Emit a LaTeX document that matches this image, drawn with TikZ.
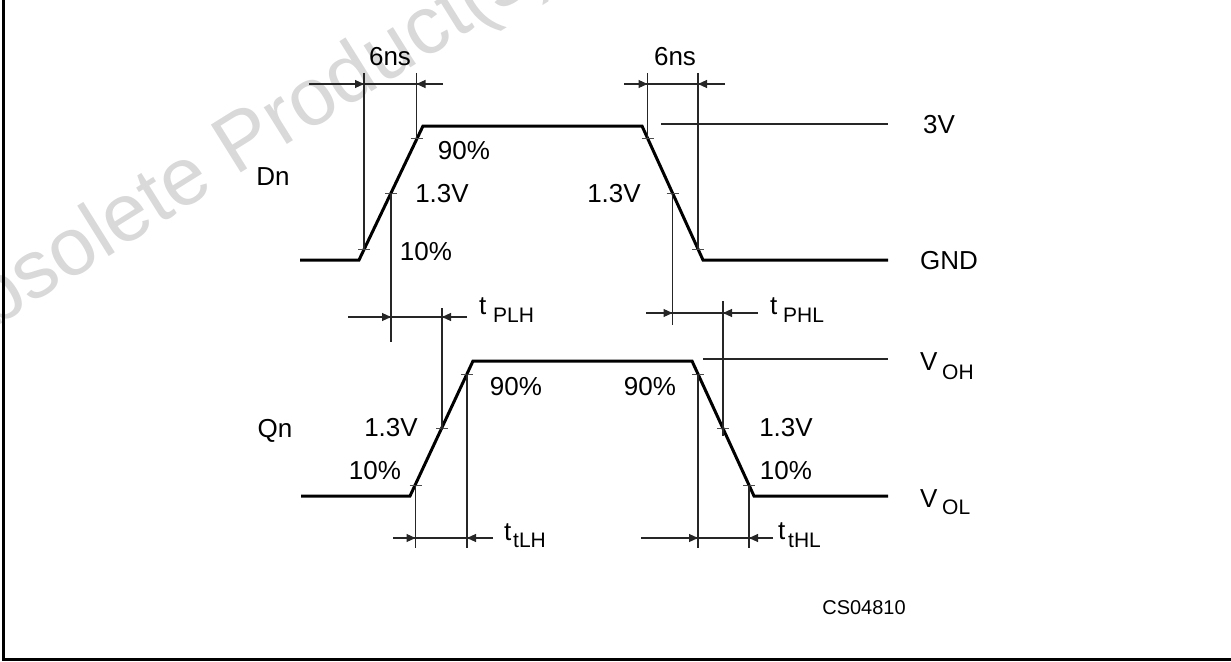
\documentclass[tikz,border=0pt]{standalone}
\usepackage{fontspec}
\setmainfont{Liberation Sans}
\usetikzlibrary{arrows.meta}
\begin{document}
\begin{tikzpicture}[x=1pt,y=-1pt,
  wave/.style={line width=3pt, line join=miter},
  thinl/.style={line width=1.1pt, black!85},
  tickl/.style={line width=1pt, black!70},
  dimarr/.style={thinl, -{Triangle[length=9pt,width=8pt]}},
  lbl/.style={inner sep=0pt, font=\fontsize{26}{30}\selectfont},
  sublbl/.style={inner sep=0pt, font=\fontsize{21}{24}\selectfont},
  smalllbl/.style={inner sep=0pt, font=\fontsize{20}{24}\selectfont},
  wm/.style={inner sep=0pt, text=black!15, font=\fontsize{82}{90}\selectfont, rotate=32, anchor=base west}]
\useasboundingbox (0,0) rectangle (1231,661);
% watermark
\begin{scope}
\clip (0,0) rectangle (1231,661);
\node[wm] (wmark) at (-62,363) {Obsolete Product(s)};
\end{scope}
% frame
\draw[line width=3pt] (3,-3) -- (3,659.5) -- (1234,659.5);

% waveforms
\coordinate (d0) at (300,260); \coordinate (d1) at (359,260); \coordinate (d2) at (423,126);
\coordinate (d3) at (642,126); \coordinate (d4) at (703,260); \coordinate (d5) at (888,260);
\draw[wave] (d0) -- (d1) -- (d2) -- (d3) -- (d4) -- (d5);
\coordinate (q0) at (301,496); \coordinate (q1) at (410,496); \coordinate (q2) at (473,361);
\coordinate (q3) at (692,361); \coordinate (q4) at (754,496); \coordinate (q5) at (888,496);
\draw[wave] (q0) -- (q1) -- (q2) -- (q3) -- (q4) -- (q5);

% ticks
\foreach \x/\y in {364/249, 391/193, 416.5/138, 647.5/138, 672.5/193, 698/249,
                   415.5/485, 442/428, 467/374, 698/374, 723/428, 749/485}
  \draw[tickl] (\x-6,\y) -- (\x+6,\y);

% reference lines
\draw[thinl] (661,124) -- (888,124);
\draw[thinl] (703,359) -- (888,359);

% extension lines
\draw[thinl] (364,73) -- (364,249);
\draw[thinl] (416.5,73) -- (416.5,138);
\draw[thinl] (647.5,73) -- (647.5,138);
\draw[thinl] (698,73) -- (698,249);
\draw[thinl] (391,193) -- (391,342);
\draw[thinl] (672.5,193) -- (672.5,325);
\draw[thinl] (442,308) -- (442,430);
\draw[thinl] (723,301) -- (723,436);
\draw[thinl] (415.5,485) -- (415.5,548);
\draw[thinl] (467,374) -- (467,548);
\draw[thinl] (698,374) -- (698,548);
\draw[thinl] (749,485) -- (749,548);

% dimension lines
\draw[thinl] (309,84) -- (443,84);
\draw[dimarr] (309,84) -- (364,84);
\draw[dimarr] (443,84) -- (416.5,84);
\draw[thinl] (624,84) -- (725,84);
\draw[dimarr] (624,84) -- (647.5,84);
\draw[dimarr] (725,84) -- (698,84);
\draw[thinl] (348,317) -- (467,317);
\draw[dimarr] (348,317) -- (391,317);
\draw[dimarr] (467,317) -- (442,317);
\draw[thinl] (646,313) -- (758,313);
\draw[dimarr] (646,313) -- (672.5,313);
\draw[dimarr] (758,313) -- (723,313);
\draw[thinl] (393,538) -- (493,538);
\draw[dimarr] (393,538) -- (415.5,538);
\draw[dimarr] (493,538) -- (467,538);
\draw[thinl] (641,538) -- (773,538);
\draw[dimarr] (641,538) -- (698,538);
\draw[dimarr] (773,538) -- (749,538);

% labels
\node[lbl, anchor=base] (sixnsA) at (390,66) {6ns};
\node[lbl, anchor=base] (sixnsB) at (675,66) {6ns};
\node[lbl, anchor=base] (dn) at (273,185) {Dn};
\node[lbl, anchor=base] (dnA90) at (464,159) {90\%};
\node[lbl, anchor=base] (dnA13) at (442,202) {1.3V};
\node[lbl, anchor=base] (dnA10) at (426,260) {10\%};
\node[lbl, anchor=base] (dnB13) at (614,202) {1.3V};
\node[lbl, anchor=base] (v3) at (939,133) {3V};
\node[lbl, anchor=base] (gnd) at (949,269) {GND};
\node[lbl, anchor=base west] (tplh) at (479,314) {t};
\node[sublbl, anchor=base west] (tplhs) at (493,322) {PLH};
\node[lbl, anchor=base west] (tphl) at (770,314) {t};
\node[sublbl, anchor=base west] (tphls) at (783,322) {PHL};
\node[lbl, anchor=base] (qn) at (275,437) {Qn};
\node[lbl, anchor=base] (qnA90) at (516,395) {90\%};
\node[lbl, anchor=base] (qnA13) at (391,436) {1.3V};
\node[lbl, anchor=base] (qnA10) at (375,479) {10\%};
\node[lbl, anchor=base] (qnB90) at (650,395) {90\%};
\node[lbl, anchor=base] (qnB13) at (786,436) {1.3V};
\node[lbl, anchor=base] (qnB10) at (786,479) {10\%};
\node[lbl, anchor=base west] (voh) at (920,370) {V};
\node[sublbl, anchor=base west] (vohs) at (942,379) {OH};
\node[lbl, anchor=base west] (vol) at (920,507) {V};
\node[sublbl, anchor=base west] (vols) at (942,514) {OL};
\node[lbl, anchor=base west] (ttlh) at (504,540) {t};
\node[sublbl, anchor=base west] (ttlhs) at (513,547) {tLH};
\node[lbl, anchor=base west] (tthl) at (778,539) {t};
\node[sublbl, anchor=base west] (tthls) at (788,547) {tHL};
\node[smalllbl, anchor=base] (code) at (864,614) {CS04810};
\end{tikzpicture}
\end{document}
